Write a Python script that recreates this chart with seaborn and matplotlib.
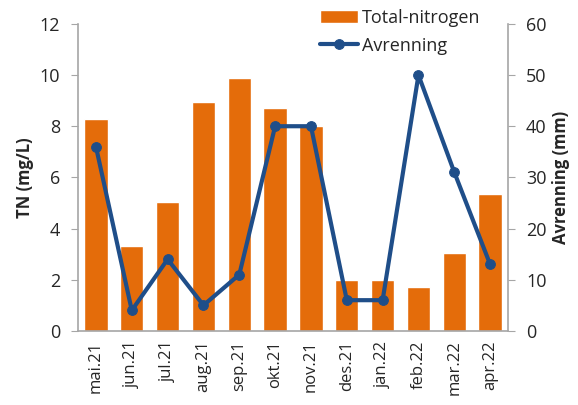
import seaborn as sns
import matplotlib.pyplot as plt
import pandas as pd

months = ['mai.21', 'jun.21', 'jul.21', 'aug.21', 'sep.21', 'okt.21',
          'nov.21', 'des.21', 'jan.22', 'feb.22', 'mar.22', 'apr.22']
total_nitrogen = [8.3, 3.3, 5.05, 8.95, 9.9, 8.7, 8.0, 2.0, 2.0, 1.72, 3.05, 5.35]
avrenning = [36, 4, 14, 5, 11, 40, 40, 6, 6, 50, 31, 13]

orange = '#E46C0A'
blue = '#1F4E89'
grey = '#A6A6A6'

sns.set_style('white')
plt.rcParams['font.family'] = ['Open Sans', 'DejaVu Sans']

data = pd.DataFrame({'month': months, 'tn': total_nitrogen, 'runoff': avrenning})

fig = plt.figure(figsize=(5.78, 4.05), dpi=100)
ax = fig.add_axes([0.135, 0.183, 0.744, 0.758])
sns.barplot(x='month', y='tn', data=data, color=orange, saturation=1,
            width=0.65, ax=ax, label='Total-nitrogen')
ax.set_ylim(0, 12)
ax.set_xlim(-0.5, 11.5)
ax.set_yticks(range(0, 13, 2))
ax.set_ylabel('TN (mg/L)', fontsize=12, fontweight='bold')
ax.set_xlabel('')

ax2 = ax.twinx()
sns.lineplot(x=list(range(len(months))), y=avrenning, ax=ax2, color=blue,
             linewidth=3, marker='o', markersize=7, markeredgecolor=blue,
             label='Avrenning', legend=False)
ax2.set_ylim(0, 60)
ax2.set_yticks(range(0, 61, 10))
ax2.set_ylabel('Avrenning (mm)', fontsize=12, fontweight='bold')

# excel-style ticks between categories
ax.set_xticks(range(len(months)))
ax.set_xticklabels(months, rotation=90, fontsize=12)
ax.set_xticks([i - 0.5 for i in range(len(months) + 1)], minor=True)
ax.tick_params(axis='x', which='major', length=0, pad=7)
ax.tick_params(axis='x', which='minor', length=5, color=grey, direction='out')
ax.tick_params(axis='y', length=5, color=grey, direction='out', labelsize=13, pad=8)
ax2.tick_params(axis='y', length=5, color=grey, direction='out', labelsize=13, pad=8)

for a in (ax, ax2):
    a.spines['top'].set_visible(False)
    for s in ('left', 'right', 'bottom'):
        a.spines[s].set_color(grey)
        a.spines[s].set_linewidth(1.2)
ax.spines['right'].set_visible(False)
ax2.spines['left'].set_visible(False)
ax2.spines['bottom'].set_visible(False)

h1, l1 = ax.get_legend_handles_labels()
h2, l2 = ax2.get_legend_handles_labels()
if ax.get_legend():
    ax.get_legend().remove()
fig.legend(h1 + h2, l1 + l2, loc='upper left', bbox_to_anchor=(0.535, 1.005),
           frameon=False, fontsize=13, handlelength=2.1, handletextpad=0.2,
           labelspacing=0.55, borderaxespad=0.2)

fig.savefig('out.png', dpi=100)
plt.close()
